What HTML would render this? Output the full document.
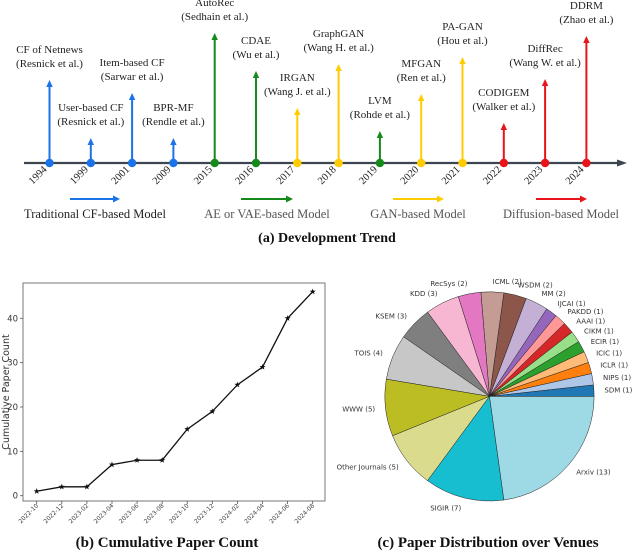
<!DOCTYPE html>
<html><head><meta charset="utf-8"><style>
html,body{margin:0;padding:0;background:#fff;width:640px;height:557px;overflow:hidden}
svg{display:block}
.serif{font-family:"Liberation Serif",serif}
.sans{font-family:"DejaVu Sans","Liberation Sans",sans-serif}
</style></head><body>
<svg id="fig" width="640" height="557" viewBox="0 0 640 557" xmlns="http://www.w3.org/2000/svg">
<g id="timeline"></g>
<g id="linechart"></g>
<g id="pie"></g>
</svg>
<script>
// ---- Panel (a) data ----
const tlYears = ["1994","1999","2001","2009","2015","2016","2017","2018","2019","2020","2021","2022","2023","2024"];
const tlNames = ["CF of Netnews","User-based CF","Item-based CF","BPR-MF","AutoRec","CDAE","IRGAN","GraphGAN","LVM","MFGAN","PA-GAN","CODIGEM","DiffRec","DDRM"];
const tlAuthors = ["(Resnick et al.)","(Resnick et al.)","(Sarwar et al.)","(Rendle et al.)","(Sedhain et al.)","(Wu et al.)","(Wang J. et al.)","(Wang H. et al.)","(Rohde et al.)","(Ren et al.)","(Hou et al.)","(Walker et al.)","(Wang W. et al.)","(Zhao et al.)"];
const tlHeights = [83, 25, 70, 25, 130, 92, 55, 99, 32, 69, 106, 40, 84, 127];
const tlGroups = [0,0,0,0,1,1,2,2,1,2,2,3,3,3];
const groupNames = ["Traditional CF-based Model","AE or VAE-based Model","GAN-based Model","Diffusion-based Model"];
// ---- Panel (b) data ----
const months = ["2022-10","2022-12","2023-02","2023-04","2023-06","2023-08","2023-10","2023-12","2024-02","2024-04","2024-06","2024-08"];
const counts = [1,2,2,7,8,8,15,19,25,29,40,46];
const yTicks = [0,10,20,30,40];
// ---- Panel (c) data ----
const venues = ["SDM","NIPS","ICLR","ICIC","ECIR","CIKM","AAAI","PAKDD","IJCAI","MM","WSDM","ICML","RecSys","KDD","KSEM","TOIS","WWW","Other Journals","SIGIR","Arxiv"];
const venueCounts = [1,1,1,1,1,1,1,1,1,2,2,2,2,3,3,4,5,5,7,13];
const venueColors = ["#1f77b4","#aec7e8","#ff7f0e","#ffbb78","#2ca02c","#98df8a","#d62728","#ff9896","#9467bd","#c5b0d5","#8c564b","#c49c94","#e377c2","#f7b6d2","#7f7f7f","#c7c7c7","#bcbd22","#dbdb8d","#17becf","#9edae5"];

const NS="http://www.w3.org/2000/svg";
function mk(tag, attrs, parent, text){const e=document.createElementNS(NS,tag);for(const k in attrs)e.setAttribute(k,attrs[k]);if(text!==undefined)e.textContent=text;parent.appendChild(e);return e;}

// ===== Panel (a) =====
(function(){
const g=document.getElementById('timeline');
const gColors=["#1a73e8","#15891a","#ffcc00","#e8141a"];
const axisY=163, x0=49.5, dx=41.3;
const xa=i=>x0+i*dx;
const ax=mk('line',{x1:24,y1:axisY,x2:620,y2:axisY,stroke:'#3d4650','stroke-width':2.2},g);


const ah=mk('polygon',{points:`627,${axisY} 617,${axisY-3.5} 617,${axisY+3.5}`,fill:'#3d4650'},g);


tlYears.forEach((y,i)=>{
  const x=xa(i), c=gColors[tlGroups[i]], tip=axisY-tlHeights[i];
  const a=mk('g',{},g);
  
  
  mk('line',{x1:x,y1:axisY,x2:x,y2:tip+6,stroke:c,'stroke-width':2},a);
  mk('polygon',{points:`${x},${tip} ${x-3.2},${tip+7} ${x+3.2},${tip+7}`,fill:c},a);
  mk('circle',{cx:x,cy:axisY,r:4.2,fill:c},a);
  mk('text',{x:x,y:tip-27,'text-anchor':'middle','font-size':11,fill:'#222',class:'serif'},a,tlNames[i]);
  mk('text',{x:x,y:tip-13,'text-anchor':'middle','font-size':11,fill:'#222',class:'serif'},a,tlAuthors[i]);
  const yl=mk('text',{x:x-2,y:axisY+7,'text-anchor':'end','font-size':10.5,fill:'#222',class:'serif',transform:`rotate(-45 ${x-2} ${axisY+7})`},a,y);
  
  
});
const lg=[[70,120,95],[241,293,267],[393,444,418],[536,587,561]];
lg.forEach((l,k)=>{
  const e=mk('g',{},g);
  
  
  mk('line',{x1:l[0],y1:199,x2:l[1]-5,y2:199,stroke:gColors[k],'stroke-width':2},e);
  mk('polygon',{points:`${l[1]},199 ${l[1]-7},195.5 ${l[1]-7},202.5`,fill:gColors[k]},e);
  mk('text',{x:l[2],y:218,'text-anchor':'middle','font-size':12.5,fill:k==0?'#222':'#555',class:'serif'},e,groupNames[k]);
});
const t=mk('text',{x:327,y:242,'text-anchor':'middle','font-size':14,'font-weight':'bold',fill:'#111',class:'serif'},g,'(a) Development Trend');


})();

// ===== Panel (b) =====
(function(){
const g=document.getElementById('linechart');
const X=i=>36.7+i*25.09;
const Y=v=>495.7-v*4.435;
const fr=mk('rect',{x:23,y:283,width:302,height:218,fill:'none',stroke:'#777','stroke-width':1},g);


yTicks.forEach(v=>{
  mk('line',{x1:20,y1:Y(v),x2:23,y2:Y(v),stroke:'#555','stroke-width':0.8},g);
  const t=mk('text',{x:18,y:Y(v)+3,'text-anchor':'end','font-size':8.5,fill:'#333',class:'sans'},g,String(v));
  
  
});
months.forEach((m,i)=>{
  mk('line',{x1:X(i),y1:501,x2:X(i),y2:504,stroke:'#555','stroke-width':0.8},g);
  const t=mk('text',{x:X(i)+2,y:506,'text-anchor':'end','font-size':6,fill:'#444',class:'sans',transform:`rotate(-45 ${X(i)+2} 506)`},g,m);
  
  
});
const yl=mk('text',{x:9,y:392,'text-anchor':'middle','font-size':9.5,fill:'#333',class:'sans',transform:'rotate(-90 9 392)'},g,'Cumulative Paper Count');


const pl=mk('polyline',{points:counts.map((v,i)=>X(i)+','+Y(v)).join(' '),fill:'none',stroke:'#111','stroke-width':1.3},g);


counts.forEach((v,i)=>{
  const cx=X(i),cy=Y(v);let p=[];
  for(let k=0;k<10;k++){const r=k%2?1.3:3.2,a=-Math.PI/2+k*Math.PI/5;p.push((cx+r*Math.cos(a)).toFixed(2)+','+(cy+r*Math.sin(a)).toFixed(2));}
  const s=mk('polygon',{points:p.join(' '),fill:'#111'},g);
  
  
});
const t=mk('text',{x:167,y:547,'text-anchor':'middle','font-size':15,'font-weight':'bold',fill:'#111',class:'serif'},g,'(b) Cumulative Paper Count');


})();

// ===== Panel (c) =====
(function(){
const g=document.getElementById('pie');
const cx=489.5,cy=396.4,R=104.6;
const total=venueCounts.reduce((a,b)=>a+b,0);
let ang=0;
venueCounts.forEach((v,i)=>{
  const a0=ang, a1=ang+v/total*2*Math.PI; ang=a1;
  const x0=cx+R*Math.cos(a0), y0=cy-R*Math.sin(a0), x1=cx+R*Math.cos(a1), y1=cy-R*Math.sin(a1);
  const large=(a1-a0)>Math.PI?1:0;
  const p=mk('path',{d:`M${cx},${cy} L${x0},${y0} A${R},${R} 0 ${large} 0 ${x1},${y1} Z`,fill:venueColors[i],stroke:'#222','stroke-width':0.5},g);
  
  
  const am=(a0+a1)/2, lx=cx+1.1*R*Math.cos(am), ly=cy-1.1*R*Math.sin(am);
  const t=mk('text',{x:lx,y:ly+2.5,'text-anchor':Math.cos(am)>=0?'start':'end','font-size':7,fill:'#333',class:'sans'},g,`${venues[i]} (${v})`);
  
  
});
const t=mk('text',{x:488,y:547,'text-anchor':'middle','font-size':15,'font-weight':'bold',fill:'#111',class:'serif'},g,'(c) Paper Distribution over Venues');


})();
</script>
</body></html>
